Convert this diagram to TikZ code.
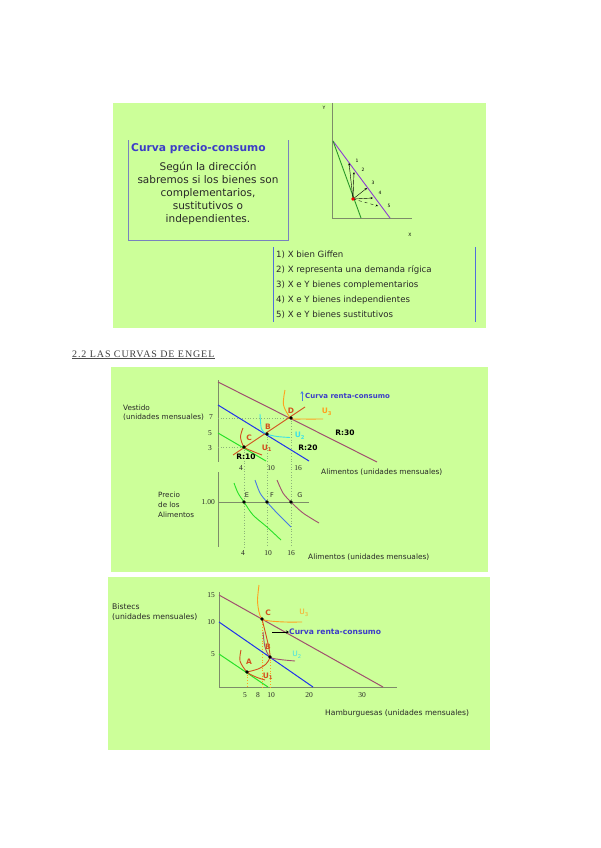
\documentclass[tikz,border=0pt]{standalone}
\usepackage{fontspec}
\setmainfont{DejaVu Sans}
\newfontfamily\serfont{Liberation Serif}
\usetikzlibrary{arrows.meta}

\newcommand{\fsz}[1]{\fontsize{#1}{#1}\selectfont}

\definecolor{panel}{RGB}{204,255,153}
\definecolor{boxline}{RGB}{120,130,190}
\definecolor{listline}{RGB}{80,110,220}
\definecolor{titleblue}{RGB}{60,60,200}
\definecolor{axisgray}{RGB}{125,140,105}
\definecolor{dotgreen}{RGB}{140,180,120}
\definecolor{budpurple}{RGB}{160,80,110}
\definecolor{budblue}{RGB}{30,50,235}
\definecolor{budgreen}{RGB}{40,225,40}
\definecolor{ordred}{RGB}{210,80,30}
\definecolor{ordorange}{RGB}{255,160,30}
\definecolor{ordcyan}{RGB}{60,225,230}
\definecolor{demblue}{RGB}{70,120,230}
\definecolor{smviolet}{RGB}{140,60,210}
\definecolor{smgreen}{RGB}{40,150,40}
\definecolor{textgray}{RGB}{40,40,40}

\begin{document}
\begin{tikzpicture}[x=1pt,y=-1pt,>=Stealth,
  axis/.style={draw=axisgray,line width=0.9pt},
  budget/.style={line width=1pt},
  indif/.style={line width=0.9pt},
  guide/.style={draw=dotgreen,dotted,line width=0.7pt},
  lab/.style={inner sep=0pt,text=textgray,font=\fsz{7.4}},
  num/.style={inner sep=0pt,text=textgray,font=\serfont\fsz{7.5}},
  ptlab/.style={inner sep=0pt,text=ordred,font=\bfseries\fsz{7.5}},
  rlab/.style={inner sep=0pt,font=\bfseries\fsz{7.5}},
  item/.style={anchor=west,inner sep=0pt,text=textgray,font=\fsz{8.6}},
  tiny/.style={inner sep=0pt,font=\fsz{4.5}}]

\fill[white] (0,0) rectangle (600,848);
\useasboundingbox (0,0) rectangle (600,848);

% ---------- panel 1: curva precio-consumo
\fill[panel] (113,103) rectangle (486,328);
\draw[boxline,line width=0.8pt] (128,140) -- (128,240) -- (288,240) -- (288,140);
\node[anchor=west,inner sep=0pt,text=titleblue,font=\bfseries\fsz{10.7}] (title) at (131,149) {Curva precio-consumo};
\node[align=center,inner sep=0pt,text=textgray,font=\fontsize{10.5}{13}\selectfont] (body) at (208,193)
  {Según la dirección\\sabremos si los bienes son\\complementarios,\\sustitutivos o\\independientes.};

\draw[axis,line width=0.7pt] (332,103) -- (332,218) -- (412,218);
\node[tiny] (ylab) at (324,108) {Y};
\node[tiny] (xlab) at (410,235) {X};
\coordinate (yint) at (333,141);
\draw[smviolet,line width=0.9pt] (yint) -- (390,218);
\draw[smgreen,line width=0.9pt] (yint) -- (361,218);
\coordinate (e0) at (353,199);
\draw[->,>={Stealth[length=2.5pt,width=2pt]},line width=0.4pt] (e0) -- (349,163);
\draw[->,>={Stealth[length=2.5pt,width=2pt]},line width=0.4pt] (e0) -- (354,172);
\draw[->,>={Stealth[length=2.5pt,width=2pt]},line width=0.4pt] (e0) -- (367,188);
\draw[->,>={Stealth[length=2.5pt,width=2pt]},line width=0.4pt] (e0) -- (373,198);
\draw[->,>={Stealth[length=2.5pt,width=2pt]},line width=0.4pt,dashed] (e0) -- (378,206);
\fill[red] (e0) circle (1.8pt);
\node[tiny] (n1) at (357,161) {1};
\node[tiny] (n2) at (363,170) {2};
\node[tiny] (n3) at (373,183) {3};
\node[tiny] (n4) at (380,193) {4};
\node[tiny] (n5) at (389,206) {5};

\draw[listline,line width=0.8pt] (273,247) -- (273,322);
\draw[listline,line width=0.8pt] (475,247) -- (475,322);
\node[item] (it1) at (276,255) {1) X bien Giffen};
\node[item] (it2) at (276,270) {2) X representa una demanda rígica};
\node[item] (it3) at (276,285) {3) X e Y bienes complementarios};
\node[item] (it4) at (276,300) {4) X e Y bienes independientes};
\node[item] (it5) at (276,315) {5) X e Y bienes sustitutivos};

% ---------- heading
\node[anchor=west,inner sep=0pt,text=black!75,font=\serfont\addfontfeatures{LetterSpace=9}\fsz{10}] (head) at (72,354) {2.2 LAS CURVAS DE ENGEL};
\draw[black!70,line width=0.8pt] ([yshift=-1.5pt]head.base west) -- ([yshift=-1.5pt]head.base east);

% ---------- panel 2: curvas de Engel
\fill[panel] (111,367) rectangle (488,572);
\draw[axis] (218,380) -- (218,462);
\draw[axis] (218,472) -- (218,547) (218,502) -- (309,502);
\coordinate (bot) at (0,547);

\coordinate (C) at (244,447);
\coordinate (B) at (267,434);
\coordinate (D) at (291,418);
\coordinate (E) at (244,502);
\coordinate (F) at (267,502);
\coordinate (G) at (291,502);

\draw[guide] (218,447) -- (C);
\draw[guide] (218,418) -- (D);
\draw[guide] (C) -- (C |- bot);
\draw[guide] (B) -- (B |- bot);
\draw[guide] (D) -- (D |- bot);

\draw[budget,budpurple] (218,382) -- (377,462);
\draw[budget,budblue] (218,405) -- (309,461);
\draw[budget,budgreen] (218,433) -- (266,461);
\draw[ordred,line width=0.9pt] (233,455) -- (305,407);
\draw[->,>={Stealth[length=3pt,width=3pt]},demblue,line width=0.7pt] (302,401) -- (302,391);

\draw[indif,ordred] plot[smooth] coordinates {(243,428) (240.5,437) (C) (252,451) (262,455)};
\draw[indif,ordcyan] plot[smooth] coordinates {(260,414) (261.5,429) (B) (277,436.5) (290,437.5)};
\draw[indif,ordorange] plot[smooth] coordinates {(285,390) (283.5,405) (D) (303,419) (323,419)};

\fill (C) circle (1.8pt);
\fill (B) circle (1.8pt);
\fill (D) circle (1.8pt);

\node[ptlab] (Clab) at (249,438) {C};
\node[ptlab] (Blab) at (268,427) {B};
\node[ptlab] (Dlab) at (291,411) {D};
\node[ptlab] (U1a) at (267,448) {U\textsubscript{1}};
\node[ptlab,text=ordcyan] (U2a) at (300,436) {U\textsubscript{2}};
\node[ptlab,text=ordorange] (U3a) at (327,412) {U\textsubscript{3}};
\node[rlab] (R30) at (345,433) {R:30};
\node[rlab] (R20) at (308,448) {R:20};
\node[rlab] (R10) at (246,457) {R:10};
\node[anchor=west,inner sep=0pt,text=titleblue,font=\bfseries\fsz{7}] (crc1) at (305,396) {Curva renta-consumo};

\node[lab,anchor=west,font=\fsz{7.3}] (vest) at (123,408) {Vestido};
\node[lab,anchor=west,font=\fsz{7.3}] (vestu) at (123,417) {(unidades mensuales)};
\node[num] (y7) at (211,417) {7};
\node[num] (y5) at (210,433) {5};
\node[num] (y3) at (210,448) {3};
\node[num] (x4a) at (241,468) {4};
\node[num] (x10a) at (271,468) {10};
\node[num] (x16a) at (298,468) {16};
\node[lab,anchor=west] (alim1) at (321,472) {Alimentos (unidades mensuales)};

% demanda
\draw[indif,budgreen] plot[smooth] coordinates {(234,483) (238,493) (E) (253,515) (267,527) (281,540)};
\draw[indif,demblue] plot[smooth] coordinates {(255,480) (260,493) (F) (277,513) (291,527)};
\draw[indif,budpurple] plot[smooth] coordinates {(277,480) (283,493) (G) (303,513) (319,523)};
\fill (E) circle (1.8pt);
\fill (F) circle (1.8pt);
\fill (G) circle (1.8pt);
\node[lab,font=\fsz{6.5}] (Elab) at (247,495) {E};
\node[lab,font=\fsz{6.5}] (Flab) at (272,495) {F};
\node[lab,font=\fsz{6.5}] (Glab) at (300,495) {G};
\node[num,anchor=east] (p100) at (215,502) {1.00};
\node[lab,anchor=west,align=left,font=\fontsize{7.2}{10}\selectfont] (prec) at (158,505) {Precio\\de los\\Alimentos};
\node[num] (x4b) at (243,553) {4};
\node[num] (x10b) at (268,553) {10};
\node[num] (x16b) at (291,553) {16};
\node[lab,anchor=west] (alim2) at (308,557) {Alimentos (unidades mensuales)};

% ---------- panel 3: bistecs y hamburguesas
\fill[panel] (108,577) rectangle (490,750);
\draw[axis] (219,592) -- (219,687) -- (397,687);
\coordinate (xax) at (0,687);
\coordinate (A) at (247,672);
\coordinate (Bb) at (270,657);
\coordinate (Cc) at (262,619);

\draw[ordorange,dotted,line width=0.7pt] (A) -- (A |- xax);
\draw[ordorange,dotted,line width=0.7pt] (Cc) -- (Cc |- xax);
\draw[ordorange,dotted,line width=0.7pt] (Bb) -- (Bb |- xax);

\draw[budget,budpurple] (219,595) -- (383,687);
\draw[budget,budblue] (219,622) -- (313,687);
\draw[budget,budgreen] (219,654) -- (268,687);

\draw[indif,ordred] plot[smooth] coordinates {(241,650) (240,661) (A) (256,677) (265,680)};
\draw[indif,budpurple] plot[smooth] coordinates {(263,632) (265,647) (Bb) (280,659.5) (295,661)};
\draw[indif,ordorange] plot[smooth] coordinates {(259,585) (257.5,600) (259,612) (Cc) (270,621) (285,622) (302,622)};
\draw[ordred,line width=0.9pt] plot[smooth] coordinates {(A) (258,669) (266,664) (Bb) (268.5,646) (265.5,633) (Cc)};

\fill (A) circle (1.8pt);
\fill (Bb) circle (1.8pt);
\fill (Cc) circle (1.8pt);

\node[ptlab] (Alab) at (249,662) {A};
\node[ptlab] (Bblab) at (268,647) {B};
\node[ptlab] (Cclab) at (268,613) {C};
\node[ptlab] (U1b) at (268,676) {U\textsubscript{1}};
\node[ptlab,text=ordcyan,font=\fsz{7.5}] (U2b) at (297,655) {U\textsubscript{2}};
\node[ptlab,text=ordorange,font=\fsz{7.5}] (U3b) at (304,613) {U\textsubscript{3}};

\node[anchor=west,inner sep=0pt,text=titleblue,font=\bfseries\fsz{7.6}] (crc2) at (289,632) {Curva renta-consumo};
\coordinate (crcs) at (272,632);
\draw[->,>={Stealth[length=3pt,width=3pt]},line width=0.8pt] (crcs) -- (crc2.west);

\node[num,anchor=east] (y15c) at (215,595) {15};
\node[num,anchor=east] (y10c) at (215,622) {10};
\node[num,anchor=east] (y5c) at (215,654) {5};
\node[num] (x5c) at (245,695) {5};
\node[num] (x8c) at (258,695) {8};
\node[num] (x10c) at (271,695) {10};
\node[num] (x20c) at (309,695) {20};
\node[num] (x30c) at (362,695) {30};
\node[lab,anchor=west,font=\fsz{7.7}] (bist) at (112,607) {Bistecs};
\node[lab,anchor=west,font=\fsz{7.7}] (bistu) at (112,617) {(unidades mensuales)};
\node[lab,anchor=west,font=\fsz{7.6}] (hamb) at (325,713) {Hamburguesas (unidades mensuales)};
\end{tikzpicture}
\end{document}
